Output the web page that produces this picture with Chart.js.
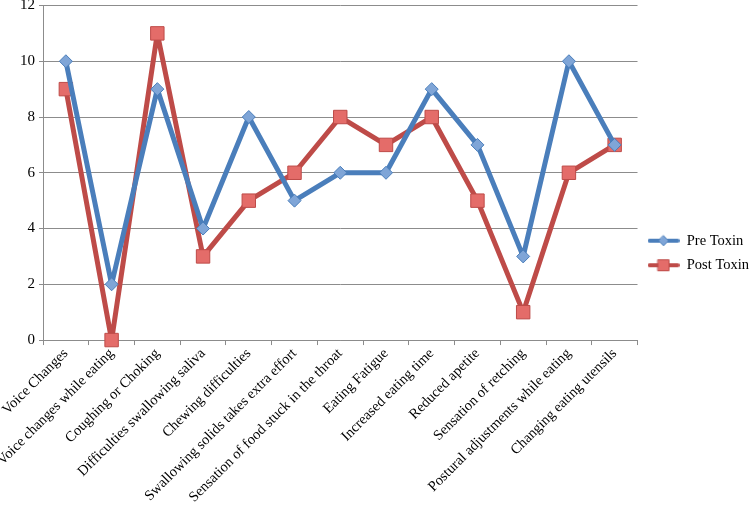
<!DOCTYPE html>
<html>
<head>
<meta charset="utf-8">
<script src="https://cdn.jsdelivr.net/npm/chart.js@4/dist/chart.umd.min.js"></script>
<style>
  html, body { margin: 0; padding: 0; background: #fff; }
  #wrap { width: 750px; height: 506px; }
</style>
</head>
<body>
<div id="wrap"><canvas id="chart" width="750" height="506"></canvas></div>
<script>
var categories = [
  'Voice Changes', 'Voice changes while eating', 'Coughing or Choking',
  'Difficulties swallowing saliva', 'Chewing difficulties',
  'Swallowing solids takes extra effort', 'Sensation of food stuck in the throat',
  'Eating Fatigue', 'Increased eating time', 'Reduced apetite',
  'Sensation of retching', 'Postural adjustments while eating', 'Changing eating utensils'
];
var preToxin  = [10, 2, 9, 4, 8, 5, 6, 6, 9, 7, 3, 10, 7];
var postToxin = [9, 0, 11, 3, 5, 6, 8, 7, 8, 5, 1, 6, 7];
var yTicks = [0, 2, 4, 6, 8, 10, 12];

var BLUE = '#4A7EBB', BLUE_FILL = '#7FA5D7';
var RED = '#BE4B48', RED_FILL = '#E46C69';
var FONT = "'Liberation Serif', 'DejaVu Serif', serif";

// legend swatch: line with marker in the middle
function swatch(color, fill, shape) {
  var c = document.createElement('canvas');
  c.width = 32; c.height = 14;
  var g = c.getContext('2d');
  g.strokeStyle = color; g.lineWidth = 4; g.lineCap = 'round';
  g.beginPath(); g.moveTo(2, 7); g.lineTo(30, 7); g.stroke();
  g.fillStyle = fill; g.lineWidth = 1; g.beginPath();
  if (shape == 'diamond') {
    g.moveTo(16, 2); g.lineTo(21, 7); g.lineTo(16, 12); g.lineTo(11, 7); g.closePath();
  } else {
    g.rect(10.5, 1.5, 11, 11);
  }
  g.fill(); g.stroke();
  return c;
}

new Chart(document.getElementById('chart').getContext('2d'), {
  type: 'line',
  data: {
    labels: categories,
    datasets: [{
      label: 'Pre Toxin',
      data: preToxin,
      borderColor: BLUE,
      backgroundColor: BLUE_FILL,
      borderWidth: 5,
      borderJoinStyle: 'round',
      pointStyle: 'rectRot',
      pointRadius: 6.5,
      pointBorderWidth: 1,
      pointBorderColor: BLUE,
      pointBackgroundColor: BLUE_FILL,
      clip: false,
      tension: 0
    }, {
      label: 'Post Toxin',
      data: postToxin,
      borderColor: RED,
      backgroundColor: RED_FILL,
      borderWidth: 5,
      borderJoinStyle: 'round',
      pointStyle: 'rect',
      pointRadius: 9.5,
      pointBorderWidth: 1,
      pointBorderColor: RED,
      pointBackgroundColor: RED_FILL,
      clip: false,
      tension: 0
    }]
  },
  options: {
    responsive: false,
    animation: false,
    layout: { autoPadding: false, padding: { left: 16, top: 0, right: -9, bottom: 0 } },
    plugins: {
      tooltip: { enabled: false },
      legend: {
        position: 'right',
        labels: {
          usePointStyle: true,
          pointStyleWidth: 32,
          padding: 10,
          color: '#000',
          font: { family: FONT, size: 14.5 },
          generateLabels: function (chart) {
            return [
              { text: 'Pre Toxin', pointStyle: swatch(BLUE, BLUE_FILL, 'diamond'), fillStyle: BLUE, strokeStyle: BLUE, lineWidth: 0, datasetIndex: 0 },
              { text: 'Post Toxin', pointStyle: swatch(RED, RED_FILL, 'square'), fillStyle: RED, strokeStyle: RED, lineWidth: 0, datasetIndex: 1 }
            ];
          }
        }
      }
    },
    scales: {
      x: {
        offset: true,
        grid: { display: true, offset: true, drawOnChartArea: false, drawTicks: true, tickLength: 5, color: '#8C8C8C' },
        border: { color: '#8C8C8C' },
        ticks: {
          autoSkip: false, maxRotation: 45, minRotation: 45,
          color: '#000', font: { family: FONT, size: 14.5 }, padding: 0
        }
      },
      y: {
        min: 0, max: 12,
        afterBuildTicks: function (axis) { axis.ticks = yTicks.map(function (v) { return { value: v }; }); },
        grid: { color: '#8C8C8C', tickLength: 4 },
        border: { color: '#8C8C8C' },
        ticks: { color: '#000', font: { family: FONT, size: 15, lineHeight: 0.2 }, padding: 4 }
      }
    }
  }
});
</script>
</body>
</html>
